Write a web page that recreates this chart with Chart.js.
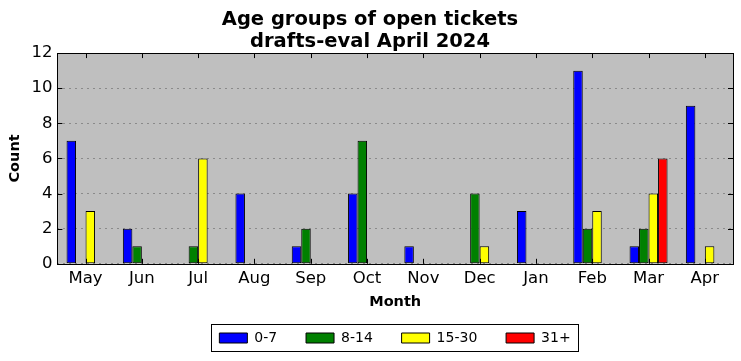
<!DOCTYPE html>
<html>
<head>
<meta charset="utf-8">
<script src="https://cdn.jsdelivr.net/npm/chart.js@4.4.1/dist/chart.umd.min.js"></script>
<style>
  html, body { margin: 0; padding: 0; background: #fff; }
  #wrap { width: 741px; height: 361px; }
</style>
</head>
<body>
<div id="wrap"><canvas id="myChart" width="741" height="361"></canvas></div>
<script>
// values
const months = ['May', 'Jun', 'Jul', 'Aug', 'Sep', 'Oct', 'Nov', 'Dec', 'Jan', 'Feb', 'Mar', 'Apr']
const age0to7 = [7, 2, 0, 4, 1, 4, 1, 0, 3, 11, 1, 9]
const age8to14 = [0, 1, 1, 0, 2, 7, 0, 4, 0, 2, 2, 0]
const age15to30 = [3, 0, 6, 0, 0, 0, 0, 1, 0, 3, 4, 1]
const age31plus = [0, 0, 0, 0, 0, 0, 0, 0, 0, 0, 6, 0]
const yTicks = [0, 2, 4, 6, 8, 10, 12]

const font = 'DejaVu Sans'

const mkSet = (label, data, color) => ({
    label: label,
    data: data,
    backgroundColor: color,
    borderColor: '#000',
    borderWidth: 1,
    borderSkipped: false,
    inflateAmount: 0
})

// grey plot area, frame, inward ticks, legend box
const frame = {
    id: 'frame',
    afterUpdate(chart) {
        // centre the legend under the plot area, like the original
        const a = chart.chartArea
        const lg = chart.legend
        const boxes = lg.legendHitBoxes
        if (!boxes || !boxes.length) return
        const first = boxes[0]
        const last = boxes[boxes.length - 1]
        const mid = (first.left + last.left + last.width) / 2
        const d = Math.round((a.left + a.right) / 2 - mid)
        lg.left += d
        lg.right += d
        boxes.forEach((b) => { b.left += d })
    },
    beforeDraw(chart) {
        const a = chart.chartArea
        const ctx = chart.ctx
        ctx.save()
        ctx.fillStyle = '#bfbfbf'
        ctx.fillRect(a.left, a.top, a.right - a.left, a.bottom - a.top)
        ctx.restore()
    },
    afterDraw(chart) {
        const a = chart.chartArea
        const ctx = chart.ctx
        const xs = chart.scales.x
        const ys = chart.scales.y
        ctx.save()
        ctx.strokeStyle = '#000'
        ctx.lineWidth = 1
        ctx.strokeRect(Math.round(a.left) + 0.5, Math.round(a.top) + 0.5,
            Math.round(a.right - a.left), Math.round(a.bottom - a.top))
        ctx.beginPath()
        months.forEach((m, i) => {
            const x = Math.round(xs.getPixelForTick(i)) + 0.5
            ctx.moveTo(x, a.bottom); ctx.lineTo(x, a.bottom - 5)
            ctx.moveTo(x, a.top); ctx.lineTo(x, a.top + 5)
        })
        yTicks.forEach((v) => {
            const y = Math.round(ys.getPixelForValue(v)) + 0.5
            ctx.moveTo(a.left, y); ctx.lineTo(a.left + 5, y)
            ctx.moveTo(a.right, y); ctx.lineTo(a.right - 5, y)
        })
        ctx.stroke()
        const boxes = chart.legend.legendHitBoxes
        if (boxes && boxes.length) {
            const first = boxes[0]
            const last = boxes[boxes.length - 1]
            const l = Math.round(first.left) - 7.5
            const r = Math.round(last.left + last.width) + 7.5
            const t = Math.round(first.top) - 6.5
            const b = Math.round(first.top + first.height) + 6.5
            ctx.strokeRect(l, t, r - l, b - t)
        }
        ctx.restore()
    }
}

const config = {
    type: 'bar',
    data: {
        labels: months,
        datasets: [
            mkSet('0-7', age0to7, '#0000ff'),
            mkSet('8-14', age8to14, '#008000'),
            mkSet('15-30', age15to30, '#ffff00'),
            mkSet('31+', age31plus, '#ff0000')
        ]
    },
    options: {
        responsive: false,
        animation: false,
        layout: { padding: { left: 7, right: 8, top: 0, bottom: 6 } },
        datasets: {
            bar: { categoryPercentage: 0.675, barPercentage: 1.0 }
        },
        plugins: {
            title: {
                display: true,
                text: ['Age groups of open tickets', 'drafts-eval April 2024'],
                color: '#000',
                font: { family: font, size: 19.5, weight: 'bold', lineHeight: 1.13 },
                padding: { top: 9, bottom: 0 }
            },
            legend: {
                position: 'bottom',
                labels: {
                    color: '#000',
                    font: { family: font, size: 14 },
                    boxWidth: 28,
                    boxHeight: 10,
                    padding: 11,
                    generateLabels: (chart) => {
                        const items = Chart.defaults.plugins.legend.labels.generateLabels(chart)
                        items.forEach((it, i) => {
                            if (i < items.length - 1) it.text = it.text + '    '
                        })
                        return items
                    }
                }
            },
            tooltip: { enabled: false }
        },
        scales: {
            x: {
                grid: { display: false, drawTicks: false },
                border: { display: false },
                ticks: { color: '#000', font: { family: font, size: 16.5 }, padding: 5 },
                title: {
                    display: true,
                    text: 'Month',
                    color: '#000',
                    font: { family: font, size: 14.5, weight: 'bold' },
                    padding: { top: 0, bottom: 9 }
                }
            },
            y: {
                min: 0,
                max: 12,
                afterBuildTicks: (s) => { s.ticks = yTicks.map((v) => ({ value: v })) },
                grid: { color: '#8a8a8a', drawTicks: false, lineWidth: 1 },
                border: { display: false, dash: [2, 4] },
                ticks: { color: '#000', font: { family: font, size: 16.5 }, padding: 5 },
                title: {
                    display: true,
                    text: 'Count',
                    color: '#000',
                    font: { family: font, size: 14.5, weight: 'bold' },
                    padding: { top: 0, bottom: 2 }
                }
            }
        }
    },
    plugins: [frame]
}

const chart = new Chart(
    document.querySelector('#myChart'),
    config
)
</script>
</body>
</html>
